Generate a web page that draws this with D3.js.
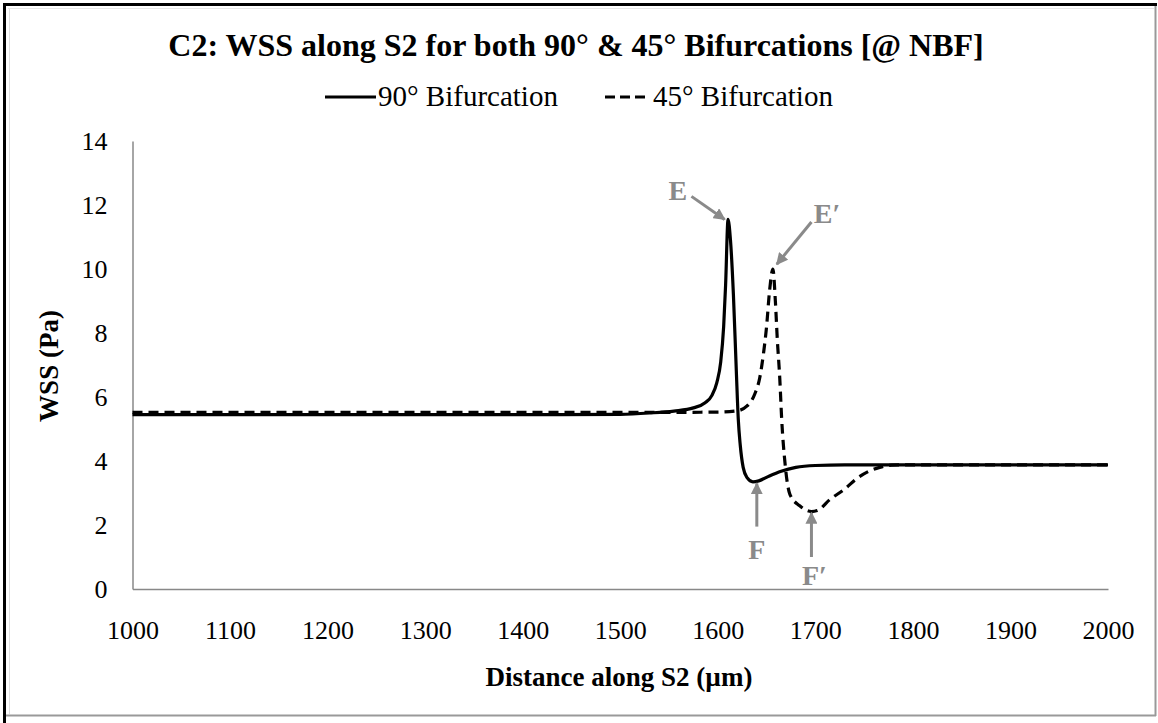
<!DOCTYPE html>
<html>
<head>
<meta charset="utf-8">
<script src="https://cdn.jsdelivr.net/npm/d3@7"></script>
<style>
  html, body { margin: 0; padding: 0; background: #fff; }
  svg { display: block; font-family: "Liberation Serif", "Times New Roman", Times, serif; }
  text { font-family: "Liberation Serif", "Times New Roman", Times, serif; fill: #000; }
</style>
</head>
<body>
<svg id="chart" width="1158" height="723"></svg>
<script>
const width = 1158;
const height = 723;

// 90° bifurcation (solid)
const dist90 = [1000, 1100, 1200, 1300, 1400, 1500, 1530, 1555, 1575, 1587, 1594, 1599, 1603, 1606, 1608, 1610.5, 1613, 1616, 1619, 1621, 1623, 1626, 1630, 1636, 1642, 1652, 1665, 1680, 1700, 1730, 1800, 1900, 2000];
const wss90 = [5.45, 5.45, 5.45, 5.45, 5.45, 5.46, 5.5, 5.56, 5.66, 5.82, 6.05, 6.45, 7.1, 8.2, 9.5, 11.55, 10.9, 9.2, 6.8, 5.3, 4.5, 3.8, 3.48, 3.35, 3.38, 3.52, 3.68, 3.8, 3.86, 3.88, 3.88, 3.88, 3.88];

// 45° bifurcation (dashed)
const dist45 = [1000, 1100, 1200, 1300, 1400, 1500, 1550, 1600, 1620, 1630, 1638, 1643, 1647, 1650, 1653, 1656.5, 1659, 1661, 1663.5, 1665.5, 1669, 1674, 1684, 1696, 1702, 1715, 1730, 1742, 1755, 1766, 1778, 1800, 1900, 2000];
const wss45 = [5.52, 5.52, 5.52, 5.52, 5.52, 5.52, 5.52, 5.53, 5.57, 5.72, 6.1, 6.6, 7.4, 8.2, 9.3, 10.0, 9.0, 7.8, 6.6, 5.3, 3.9, 2.95, 2.6, 2.42, 2.45, 2.8, 3.12, 3.44, 3.68, 3.8, 3.87, 3.88, 3.88, 3.88];

const xTicks = [1000, 1100, 1200, 1300, 1400, 1500, 1600, 1700, 1800, 1900, 2000];
const yTicks = [0, 2, 4, 6, 8, 10, 12, 14];

const seriesNames = ["90° Bifurcation", "45° Bifurcation"];

// point labels: text, label position, arrow tail, arrow head (data units)
const labelText = ["E", "E′", "F", "F′"];
const labelPos = [[1559, 12.45], [1712, 11.75], [1640, 1.25], [1699, 0.42]];
const arrowFrom = [[1573, 12.27], [1696, 11.47], [1640, 1.95], [1696, 1.0]];
const arrowTo = [[1607, 11.55], [1660.5, 10.15], [1640, 3.3], [1696, 2.38]];

const svg = d3.select("#chart");
const serif = '"Liberation Serif", "Times New Roman", Times, serif';

// frame
svg.append("rect").attr("x", 0).attr("y", 0).attr("width", width).attr("height", height).attr("fill", "#fff");
svg.append("line").attr("x1", 3).attr("x2", 1157).attr("y1", 4.5).attr("y2", 4.5).attr("stroke", "#000").attr("stroke-width", 3);
svg.append("line").attr("x1", 4.5).attr("x2", 4.5).attr("y1", 3).attr("y2", 723).attr("stroke", "#000").attr("stroke-width", 3);
svg.append("line").attr("x1", 1155.5).attr("x2", 1155.5).attr("y1", 6).attr("y2", 716).attr("stroke", "#999").attr("stroke-width", 2);
svg.append("line").attr("x1", 6).attr("x2", 1156).attr("y1", 715.5).attr("y2", 715.5).attr("stroke", "#999").attr("stroke-width", 2);
svg.append("line").attr("x1", 9.5).attr("x2", 9.5).attr("y1", 8).attr("y2", 714).attr("stroke", "#ddd").attr("stroke-width", 1);
svg.append("line").attr("x1", 8).attr("x2", 1154).attr("y1", 8.5).attr("y2", 8.5).attr("stroke", "#e6e6e6").attr("stroke-width", 1);

const x = d3.scaleLinear().domain([1000, 2000]).range([132.5, 1108]);
const y = d3.scaleLinear().domain([0, 14]).range([589, 141]);

// axes
const xAxis = d3.axisBottom(x).tickValues(xTicks).tickSize(0).tickPadding(28).tickFormat(d3.format("d"));
const yAxis = d3.axisLeft(y).tickValues(yTicks).tickSize(0).tickPadding(25).tickFormat(d3.format("d"));

const gx = svg.append("g").attr("transform", `translate(0,${y(0)})`).call(xAxis);
const gy = svg.append("g").attr("transform", `translate(${x(1000)},0)`).call(yAxis);
[gx, gy].forEach(g => {
  g.attr("font-family", serif).attr("font-size", 26);
  g.select(".domain").attr("stroke", "#888").attr("stroke-width", 1.5);
  g.selectAll("text").style("font-family", serif).style("font-size", "26px").attr("fill", "#000");
});
gx.selectAll("text").attr("dy", "0.85em");

// lines
const line = d3.line().x(d => x(d[0])).y(d => y(d[1])).curve(d3.curveMonotoneX);
const pts90 = dist90.map((d, i) => [d, wss90[i]]);
const pts45 = dist45.map((d, i) => [d, wss45[i]]);

svg.append("path").datum(pts45).attr("d", line)
  .attr("fill", "none").attr("stroke", "#000").attr("stroke-width", 3.2)
  .attr("stroke-dasharray", "10,6");
svg.append("path").datum(pts90).attr("d", line)
  .attr("fill", "none").attr("stroke", "#000").attr("stroke-width", 3.2);

// annotations
const grey = "#8a8a8a";
const defs = svg.append("defs");
defs.append("marker").attr("id", "arrow").attr("viewBox", "0 0 10 10")
  .attr("refX", 9).attr("refY", 5).attr("markerWidth", 4).attr("markerHeight", 4)
  .attr("orient", "auto")
  .append("path").attr("d", "M0,0L10,5L0,10z").attr("fill", grey);

labelText.forEach((t, i) => {
  svg.append("line")
    .attr("x1", x(arrowFrom[i][0])).attr("y1", y(arrowFrom[i][1]))
    .attr("x2", x(arrowTo[i][0])).attr("y2", y(arrowTo[i][1]))
    .attr("stroke", grey).attr("stroke-width", 3).attr("marker-end", "url(#arrow)");
  svg.append("text")
    .attr("x", x(labelPos[i][0])).attr("y", y(labelPos[i][1]))
    .attr("text-anchor", "middle").attr("dominant-baseline", "central")
    .style("font-size", "28px").attr("font-weight", "bold").style("fill", grey)
    .text(t);
});

// title
svg.append("text").attr("x", 576).attr("y", 56).attr("text-anchor", "middle")
  .style("font-size", "32px").attr("font-weight", "bold")
  .text("C2: WSS along S2 for both 90° & 45° Bifurcations [@ NBF]");

// legend
const legend = svg.append("g");
legend.append("line").attr("x1", 325).attr("x2", 376).attr("y1", 97).attr("y2", 97)
  .attr("stroke", "#000").attr("stroke-width", 3.2);
legend.append("text").attr("x", 378).attr("y", 106).style("font-size", "29px").text(seriesNames[0]);
legend.append("line").attr("x1", 605).attr("x2", 646).attr("y1", 97).attr("y2", 97)
  .attr("stroke", "#000").attr("stroke-width", 3.2).attr("stroke-dasharray", "10,5");
legend.append("text").attr("x", 653).attr("y", 106).style("font-size", "29px").text(seriesNames[1]);

// axis titles
svg.append("text").attr("x", 619).attr("y", 686).attr("text-anchor", "middle")
  .style("font-size", "27px").attr("font-weight", "bold").text("Distance along S2 (µm)");
svg.append("text").attr("transform", "translate(58,366) rotate(-90)").attr("text-anchor", "middle")
  .style("font-size", "27px").attr("font-weight", "bold").text("WSS (Pa)");
</script>
</body>
</html>
